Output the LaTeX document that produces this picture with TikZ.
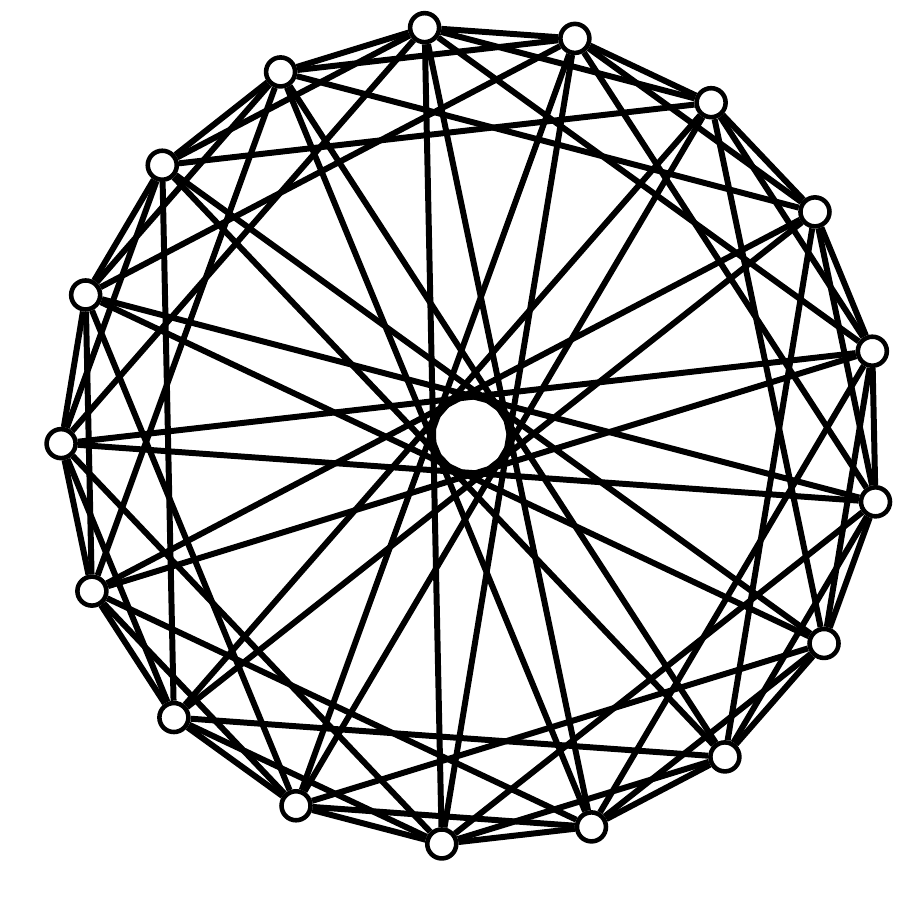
\documentclass[tikz,border=0pt]{standalone}
\usepackage{tikz}

\begin{document}
\begin{tikzpicture}[
    vertex/.style={circle, draw=black, line width=2.6pt, fill=white, minimum size=0.58cm, inner sep=0pt},
    edge/.style={line width=3.4pt, color=black}
]
\useasboundingbox (-9.42,-9.66) rectangle (9.06,8.70);
% vertices on the circle
\foreach \i in {0,...,16}
    \node[vertex] (v\i) at ({96.5+\i*360/17}:8.2) {};
% connectors: offsets 1, 2, 4 and 8
\foreach \i in {0,...,16}
    \foreach \k in {1,2,4,8} {
        \pgfmathtruncatemacro\j{mod(\i+\k,17)}
        \draw[edge] (v\i) -- (v\j);
    }
\end{tikzpicture}
\end{document}
